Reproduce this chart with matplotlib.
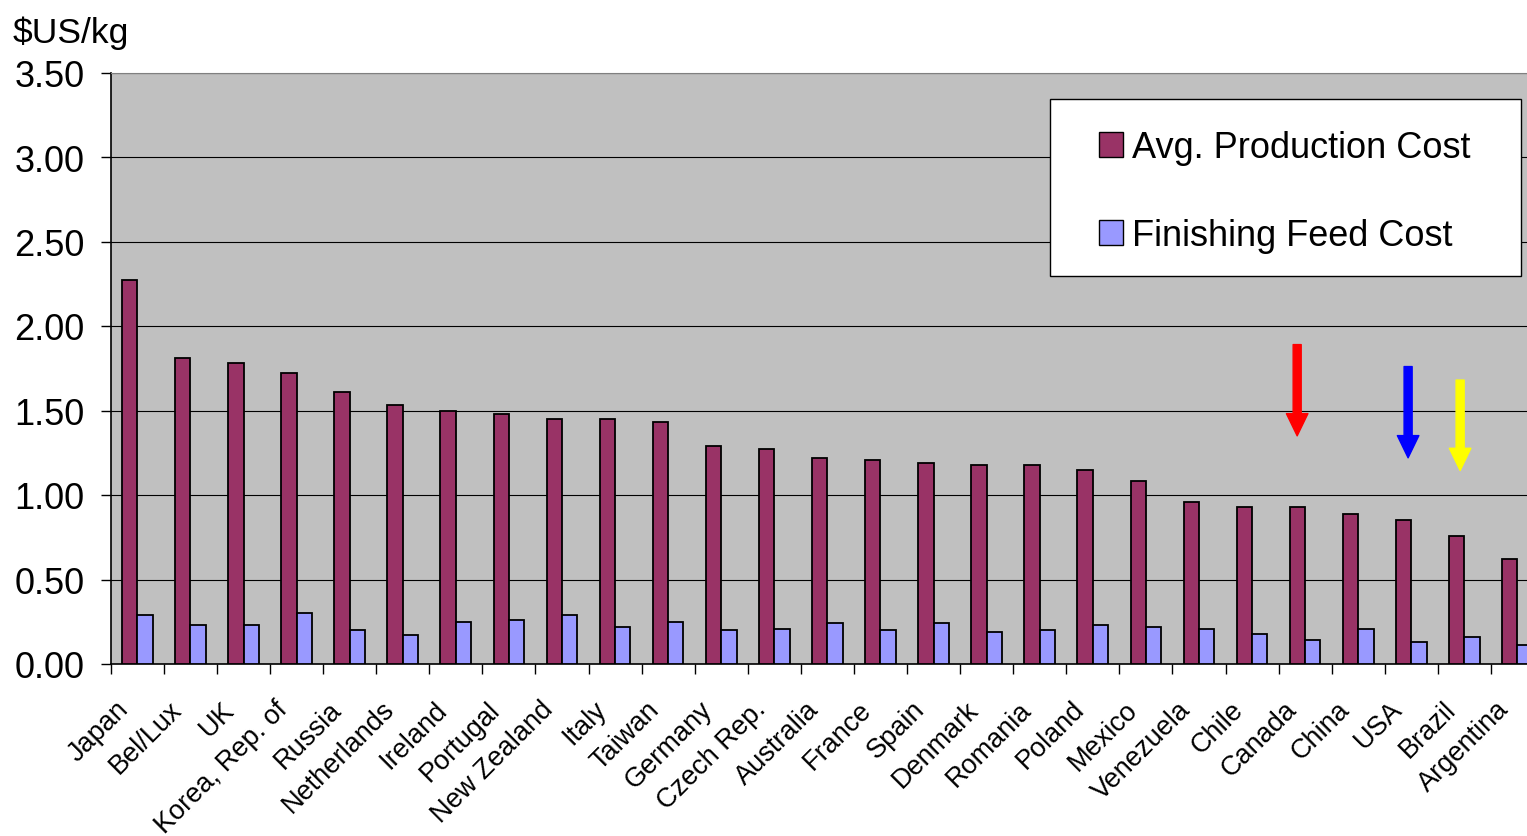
import matplotlib
matplotlib.use("Agg")
import matplotlib.pyplot as plt
import matplotlib.transforms as mtransforms
from matplotlib.patches import Rectangle, Patch
import numpy as np

plt.rcParams["font.family"] = ["Liberation Sans", "DejaVu Sans"]

countries = ["Japan", "Bel/Lux", "UK", "Korea, Rep. of", "Russia", "Netherlands",
             "Ireland", "Portugal", "New Zealand", "Italy", "Taiwan", "Germany",
             "Czech Rep.", "Australia", "France", "Spain", "Denmark", "Romania",
             "Poland", "Mexico", "Venezuela", "Chile", "Canada", "China", "USA",
             "Brazil", "Argentina"]
avg_production = [2.27, 1.81, 1.78, 1.72, 1.61, 1.53, 1.50, 1.48, 1.45, 1.45, 1.43,
                  1.29, 1.27, 1.22, 1.21, 1.19, 1.18, 1.18, 1.15, 1.08, 0.96, 0.93,
                  0.93, 0.89, 0.85, 0.76, 0.62]
finishing_feed = [0.29, 0.23, 0.23, 0.30, 0.20, 0.17, 0.25, 0.26, 0.29, 0.22, 0.25,
                  0.20, 0.21, 0.24, 0.20, 0.24, 0.19, 0.20, 0.23, 0.22, 0.21, 0.18,
                  0.14, 0.21, 0.13, 0.16, 0.11]
yticks = [0.0, 0.5, 1.0, 1.5, 2.0, 2.5, 3.0, 3.5]

# highlight arrows: (x position, tail value, tip value, colour)
arrows = [(21.85, 1.89, 1.35, "#FF0000"),
          (23.94, 1.76, 1.22, "#0000FF"),
          (24.92, 1.68, 1.145, "#FFFF00")]

W, H = 1527, 837
fig = plt.figure(figsize=(W / 100, H / 100), dpi=100)
# plot area runs a little past the right edge of the image
ax = fig.add_axes([110.8 / W, 1 - 665 / H, (1544 - 110.8) / W, (665 - 73.5) / H])
ax.set_facecolor("#C0C0C0")

x = np.arange(len(countries))
bw = 0.289
ax.bar(x - bw / 2, avg_production, bw, color="#993366", edgecolor="black",
       linewidth=1.3, zorder=3, label="Avg. Production Cost")
ax.bar(x + bw / 2, finishing_feed, bw, color="#9999FF", edgecolor="black",
       linewidth=1.3, zorder=3, label="Finishing Feed Cost")

ax.set_xlim(-0.5, len(countries) - 0.5)
ax.set_ylim(0, 3.5)
ax.set_yticks(yticks)
ax.set_yticklabels([f"{v:.2f}" for v in yticks], fontsize=26)
ax.yaxis.grid(True, color="black", linewidth=0.8, zorder=1)
ax.set_axisbelow(True)
ax.tick_params(axis="y", length=7, width=1, pad=12)

ax.set_xticks(x)
ax.set_xticklabels(countries, fontsize=19.5, rotation=45, ha="right", va="baseline",
                   rotation_mode="anchor")
ax.tick_params(axis="x", which="major", length=0, pad=33)
shift = mtransforms.ScaledTranslation(-0.075, 0, fig.dpi_scale_trans)
for lab in ax.get_xticklabels():
    lab.set_transform(lab.get_transform() + shift)
ax.set_xticks(np.arange(len(countries) + 1) - 0.5, minor=True)
ax.tick_params(axis="x", which="minor", length=7, width=1)

for side in ["left", "bottom"]:
    ax.spines[side].set_color("black")
    ax.spines[side].set_linewidth(1.2)
ax.spines["top"].set_color("#808080")
ax.spines["right"].set_visible(False)

for xp, y0, y1, c in arrows:
    ax.annotate("", xy=(xp, y1), xytext=(xp, y0),
                arrowprops=dict(arrowstyle="simple,head_length=1.6,head_width=1.55,tail_width=0.58",
                                mutation_scale=10, color=c, shrinkA=0, shrinkB=0),
                zorder=4)

fig.text(13 / W, 1 - 42.7 / H, "$US/kg", fontsize=25.5, va="baseline", ha="left")

# legend box
fig.add_artist(Rectangle((1050 / W, 1 - 277 / H), 471 / W, 177 / H,
                         transform=fig.transFigure, facecolor="white",
                         edgecolor="black", linewidth=1, zorder=4))
handles = [Patch(facecolor="#993366", edgecolor="black", linewidth=1),
           Patch(facecolor="#9999FF", edgecolor="black", linewidth=1)]
fig.legend(handles, ["Avg. Production Cost", "Finishing Feed Cost"],
           loc="upper left", bbox_to_anchor=(1099 / W, 1 - 131 / H),
           frameon=False, fontsize=26, handlelength=0.66, handleheight=0.7,
           handletextpad=0.25, borderpad=0, borderaxespad=0, labelspacing=1.47)

fig.savefig("out.png", dpi=100)
